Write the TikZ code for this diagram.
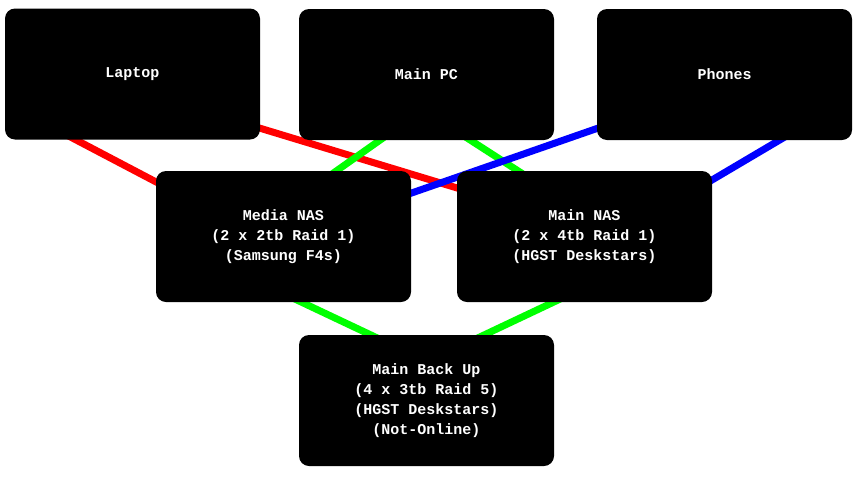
\documentclass[tikz,border=0pt]{standalone}
\usepackage{fontspec}
\setmonofont{Liberation Mono}
\usetikzlibrary{calc,backgrounds}
\begin{document}
\begin{tikzpicture}[x=1pt,y=-1pt,
  box/.style={fill=black,rounded corners=10pt,minimum width=255pt,minimum height=131pt,inner sep=0pt,
    text=white,font=\ttfamily\bfseries\fontsize{15}{20}\selectfont,align=center},
  link/.style={line width=7pt}]
\useasboundingbox (0,0) rectangle (860,480);
\node[box] (lap) at (132.5,74) {Laptop};
\node[box] (pc) at (426.5,74.5) {Main PC};
\node[box] (ph) at (724.5,74.5) {Phones};
\node[box] (mnas) at (283.5,236.5) {Media NAS\\(2 x 2tb Raid 1)\\(Samsung F4s)};
\node[box] (nas) at (584.5,236.5) {Main NAS\\(2 x 4tb Raid 1)\\(HGST Deskstars)};
\node[box] (bk) at (426.5,400.5) {Main Back Up\\(4 x 3tb Raid 5)\\(HGST Deskstars)\\(Not-Online)};
\begin{scope}[on background layer]
\draw[link,red] ($(lap)+(-92.5,47)$) -- ($(mnas)+(-83.5,-31.5)$);
\draw[link,red] ($(lap)+(67.5,36)$) -- ($(nas)+(-84.5,-35.5)$);
\draw[link,green] ($(pc)+(-26.5,51.5)$) -- ($(mnas)+(31.5,-50.5)$);
\draw[link,green] ($(pc)+(23.5,52.5)$) -- ($(nas)+(-44.5,-51.5)$);
\draw[link,blue] ($(ph)+(-74.5,35.5)$) -- ($(mnas)+(96.5,-32.5)$);
\draw[link,blue] ($(ph)+(75.5,53.5)$) -- ($(nas)+(105.5,-43.5)$);
\draw[link,green] ($(mnas)+(-3.5,55.5)$) -- ($(bk)+(-36.5,-56.5)$);
\draw[link,green] ($(nas)+(-9.5,55.5)$) -- ($(bk)+(38.5,-56.5)$);
\end{scope}
\end{tikzpicture}
\end{document}
